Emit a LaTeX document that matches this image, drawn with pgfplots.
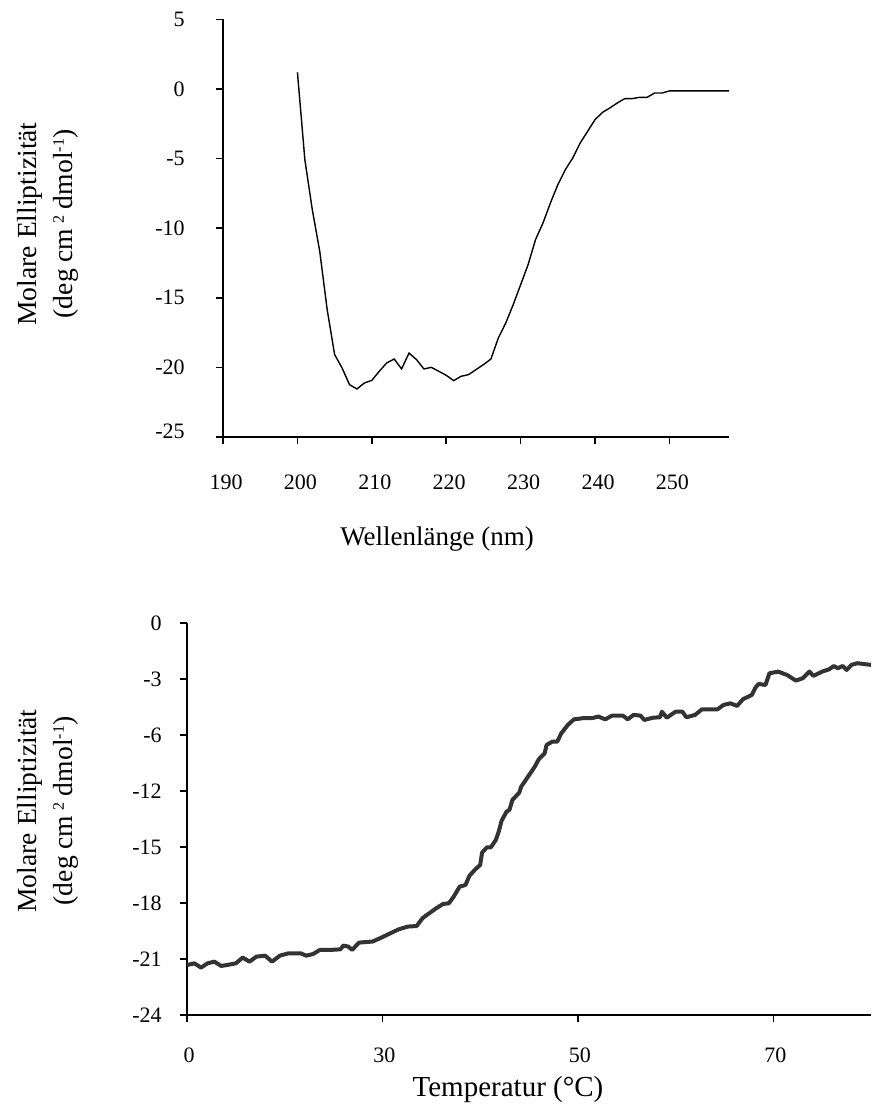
\documentclass[border=0pt]{standalone}
\usepackage{fontspec}
\setmainfont{Liberation Serif}
\usepackage{pgfplots}
\pgfplotsset{compat=1.18}
\definecolor{curvegray}{RGB}{51,51,51}
\newcommand{\smallsup}[1]{\raisebox{0.32em}{\fontsize{8}{8}\selectfont #1}}
\pgfplotsset{
  cdaxis/.style={
    scale only axis,
    axis lines=left,
    axis line style={-, line width=0.9pt},
    tick align=outside,
    major tick length=3.5pt,
    tick style={black, line width=0.8pt},
    minor tick num=0,
    clip=false,
    /pgf/number format/assume math mode=true,
    tick label style={font=\fontsize{11}{13}\selectfont, inner sep=0pt},
  },
}
\begin{document}
\begin{tikzpicture}
\useasboundingbox (0,0) rectangle (435.5pt,553pt);

% CD spectrum
\begin{axis}[cdaxis,
  at={(111.5pt,334.5pt)}, anchor=south west,
  width=253pt, height=208.8pt,
  xmin=190, xmax=258, ymin=-25, ymax=5,
  xtick={190,200,...,250},
  ytick={-25,-20,...,5},
  yticklabels={\raisebox{6pt}{-25},-20,-15,-10,-5,0,5},
  xticklabel style={anchor=center, yshift=-19pt, xshift=1.5pt},
  yticklabel style={anchor=east, xshift=-15.5pt},
]
\addplot[black, line width=0.7pt] coordinates {
(200,1.2) (201,-5.08) (202,-8.67) (203,-11.66) (204,-15.85) (205,-19.08)
(206,-20.04) (207,-21.24) (208,-21.55) (209,-21.12) (210,-20.93) (211,-20.28)
(212,-19.68) (213,-19.40) (214,-20.11) (215,-18.97) (216,-19.44) (217,-20.11)
(218,-20.00) (219,-20.28) (220,-20.57) (221,-20.95) (222,-20.64) (223,-20.52)
(224,-20.16) (225,-19.80) (226,-19.40) (227,-17.89) (228,-16.81) (229,-15.49)
(230,-14.06) (231,-12.62) (232,-10.82) (233,-9.63) (234,-8.19) (235,-6.87)
(236,-5.80) (237,-4.96) (238,-3.88) (239,-3.04) (240,-2.20) (241,-1.68)
(242,-1.36) (243,-1.00) (244,-0.69) (245,-0.69) (246,-0.60) (247,-0.60)
(248,-0.29) (249,-0.29) (250,-0.14) (251,-0.14) (252,-0.14) (253,-0.14)
(254,-0.14) (255,-0.14) (256,-0.14) (257,-0.14) (258,-0.14)
};
\end{axis}

% thermal melt
\begin{axis}[cdaxis,
  at={(93.5pt,45.5pt)}, anchor=south west,
  width=342pt, height=195.85pt,
  xmin=0, xmax=70, ymin=-21, ymax=0,
  xtick={0,20,40,60}, xticklabels={0,30,50,70},
  ytick={-21,-18,...,0},
  yticklabels={-24,-21,-18,-15,-12,-6,-3,0},
  xticklabel style={anchor=center, yshift=-16.5pt, xshift=1pt},
  yticklabel style={anchor=east, xshift=-9pt},
]
\addplot[curvegray, line width=2pt, line join=round] coordinates {
(0,-18.32) (0.76,-18.23) (1.44,-18.46) (2.1,-18.23) (2.8,-18.14) (3.5,-18.37)
(4.1,-18.32) (5.0,-18.23) (5.7,-17.92) (6.4,-18.14) (7.1,-17.87) (8.0,-17.82)
(8.7,-18.14) (9.5,-17.82) (10.4,-17.69) (11.6,-17.69) (12.2,-17.82) (12.9,-17.73)
(13.6,-17.51) (14.7,-17.51) (15.7,-17.48) (16.0,-17.28) (16.5,-17.33) (16.9,-17.51)
(17.6,-17.12) (19.0,-17.06) (19.9,-16.85) (20.8,-16.62) (21.7,-16.40) (22.6,-16.26)
(23.5,-16.23) (24.1,-15.81) (24.7,-15.58) (25.5,-15.28) (26.2,-15.05) (26.8,-15.01)
(27.3,-14.65) (27.9,-14.12) (28.5,-14.03) (28.9,-13.54) (29.5,-13.19) (30.0,-12.96)
(30.2,-12.29) (30.7,-12.01) (31.1,-12.01) (31.6,-11.62) (31.9,-11.17) (32.2,-10.58)
(32.7,-10.10) (33.0,-10.00) (33.3,-9.47) (34.0,-9.08) (34.2,-8.76) (34.9,-8.22)
(35.6,-7.68) (36.0,-7.29) (36.6,-6.97) (36.8,-6.52) (37.4,-6.34) (37.9,-6.34)
(38.3,-5.90) (38.97,-5.45) (39.6,-5.15) (40.5,-5.09) (41.4,-5.09) (42.1,-5.00)
(42.8,-5.15) (43.5,-4.95) (44.6,-4.95) (45.1,-5.15) (45.7,-4.91) (46.4,-4.95)
(46.8,-5.18) (47.7,-5.06) (48.4,-5.04) (48.6,-4.74) (49.1,-5.06) (50.0,-4.74)
(50.7,-4.74) (51.1,-5.04) (52.0,-4.91) (52.7,-4.61) (54.3,-4.61) (54.9,-4.38)
(55.6,-4.29) (56.3,-4.43) (56.9,-4.07) (57.8,-3.84) (58.2,-3.43) (58.5,-3.25)
(59.2,-3.31) (59.6,-2.68) (60.5,-2.59) (61.4,-2.77) (62.3,-3.07) (63.0,-2.95)
(63.7,-2.59) (64.1,-2.82) (65.0,-2.59) (65.7,-2.47) (66.2,-2.29) (66.6,-2.41)
(67.1,-2.29) (67.5,-2.50) (68.0,-2.23) (68.6,-2.14) (69.5,-2.20) (70,-2.23)
};
\end{axis}

\node[rotate=90, align=center, font=\fontsize{13.8}{18}\selectfont] at (24pt,441pt)
  {Molare Elliptizität\\(deg cm\,\smallsup{2} dmol\smallsup{-1})};
\node[rotate=90, align=center, font=\fontsize{13.8}{18}\selectfont] at (24pt,147.5pt)
  {Molare Elliptizität\\(deg cm\,\smallsup{2} dmol\smallsup{-1})};
\node[anchor=base, font=\fontsize{13.5}{16}\selectfont] at (218.5pt,280pt) {Wellenlänge (nm)};
\node[anchor=base, font=\fontsize{14.5}{17}\selectfont] at (254pt,5pt) {Temperatur (°C)};
\end{tikzpicture}
\end{document}
